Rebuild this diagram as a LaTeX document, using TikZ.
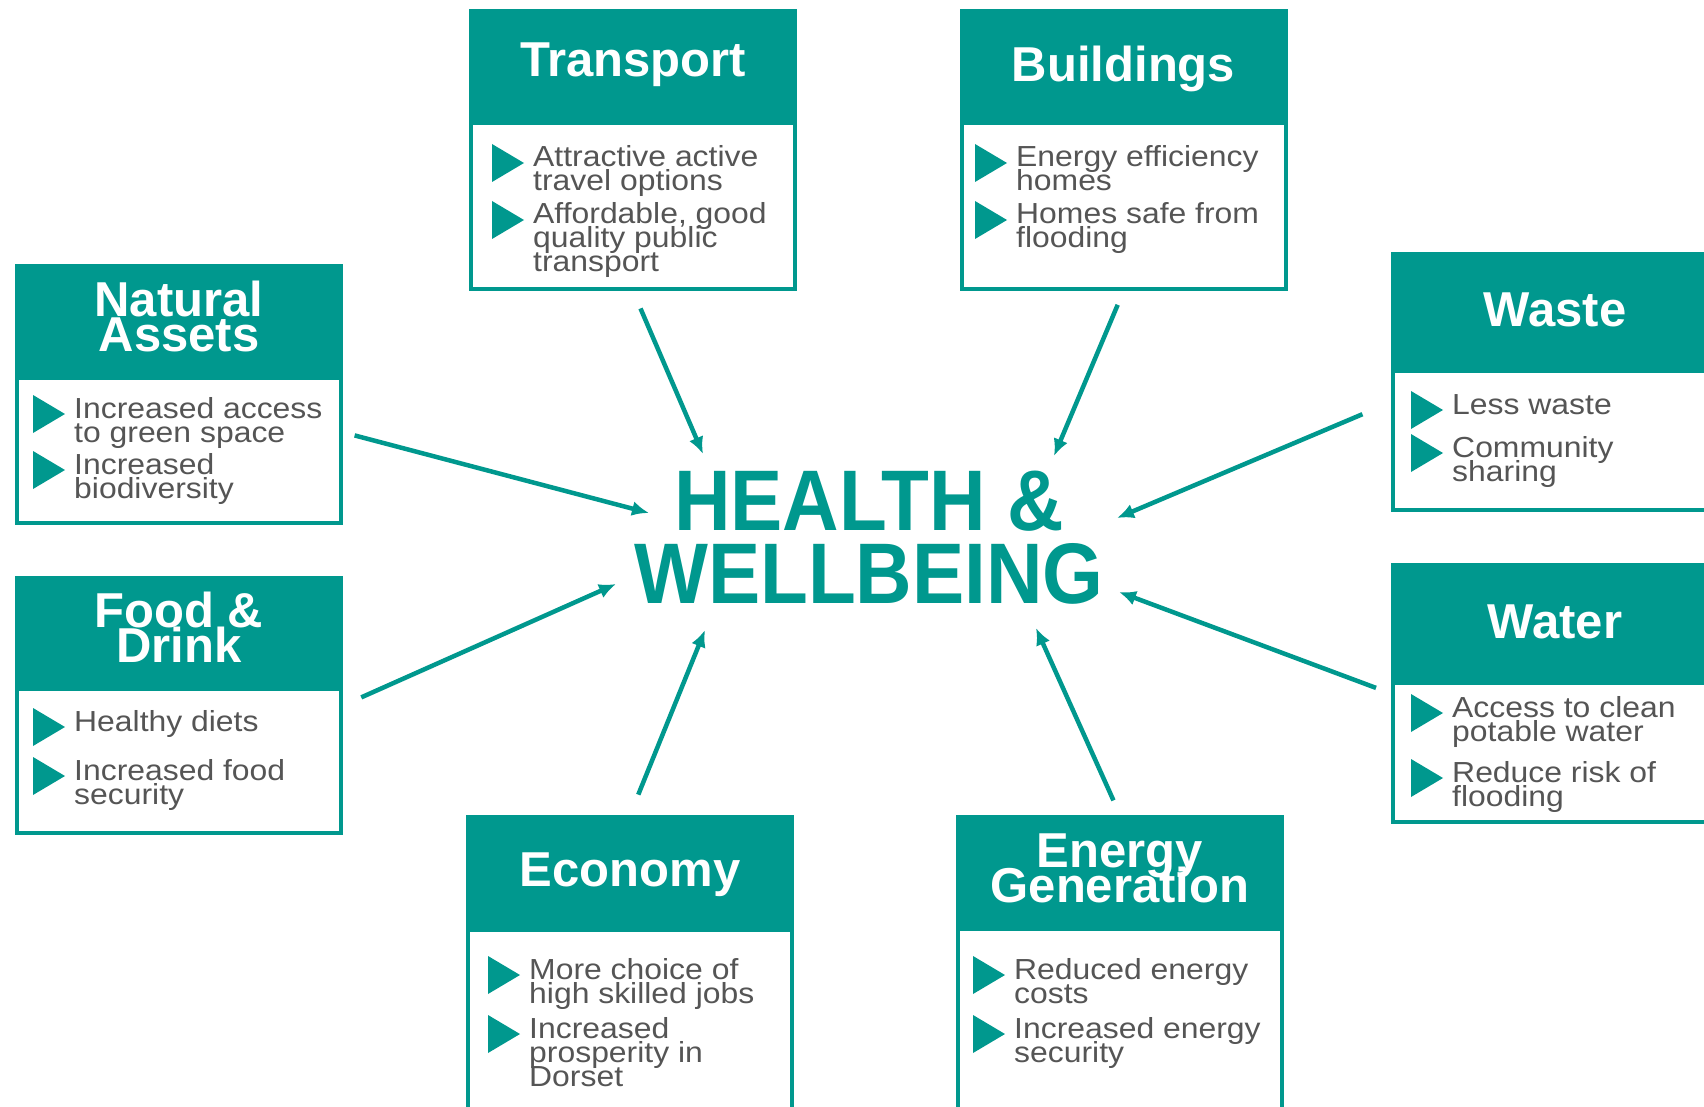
\documentclass[tikz,border=0pt]{standalone}
\usepackage{fontspec}
\setmainfont{Liberation Sans}
\newfontfamily\itemfont[FakeStretch=1.1]{Liberation Sans}
\newfontfamily\hwfont[FakeStretch=0.91]{Liberation Sans}
\usetikzlibrary{arrows.meta}
\begin{document}
\begin{tikzpicture}[x=1pt, y=-1pt,
    box/.style={draw=hwteal, line width=4pt, fill=white, minimum width=324pt, inner sep=0pt},
    head/.style={fill=hwteal, minimum width=328pt, inner sep=0pt, anchor=north},
    title/.style={text=white, font=\fontsize{49}{35}\selectfont\bfseries, inner sep=0pt, anchor=base},
    itm/.style={text=hwgray, font=\itemfont\fontsize{29}{24}\selectfont, inner sep=0pt, anchor=base west},
    arr/.style={draw=hwteal, line width=4.5pt, -{Latex[length=17pt,width=15pt]}}]
  \definecolor{hwteal}{RGB}{0,152,142}
  \definecolor{hwgray}{RGB}{85,85,85}
  \def\lnsc#1{\vtop{\lineskiplimit=-\maxdimen\lineskip=0pt\halign{\hfil##\hfil\cr#1\crcr}}}
  \def\lnsl#1{\vtop{\lineskiplimit=-\maxdimen\lineskip=0pt\halign{##\hfil\cr#1\crcr}}}
  \def\bitem#1#2#3#4{%
    \fill[hwteal] (#1,#2-23) -- (#1+32,#2-4) -- (#1,#2+15) -- cycle;
    \node[itm] (#3) at (#1+41,#2) {\lnsl{#4}};}
  \useasboundingbox[fill=white] (0,0) rectangle (1704,1107);

  \node[box, minimum height=278pt] (tr) at (633,150) {};
  \node[head, minimum height=116pt] (tr-h) at (tr.north) {};
  \node[title] (tr-t) at (633,77) {Transport};
  \bitem{492}{167}{tr-1}{Attractive active\cr travel options}
  \bitem{492}{224}{tr-2}{Affordable, good\cr quality public\cr transport}

  \node[box, minimum height=278pt] (bu) at (1123.5,150) {};
  \node[head, minimum height=116pt] (bu-h) at (bu.north) {};
  \node[title] (bu-t) at (1123.5,82) {Buildings};
  \bitem{975}{167}{bu-1}{Energy efficiency\cr homes}
  \bitem{975}{224}{bu-2}{Homes safe from\cr flooding}

  \node[box, minimum height=257pt] (na) at (179,394.5) {};
  \node[head, minimum height=116pt] (na-h) at (na.north) {};
  \node[title] (na-t) at (179,316) {\lnsc{Natural\cr Assets}};
  \bitem{33}{418}{na-1}{Increased access\cr to green space}
  \bitem{33}{474}{na-2}{Increased\cr biodiversity}

  \node[box, minimum height=255pt] (fd) at (179,705.5) {};
  \node[head, minimum height=115pt] (fd-h) at (fd.north) {};
  \node[title] (fd-t) at (179,627) {\lnsc{Food \&\cr Drink}};
  \bitem{33}{731}{fd-1}{Healthy diets}
  \bitem{33}{780}{fd-2}{Increased food\cr security}

  \node[box, minimum height=256pt] (ws) at (1555,382) {};
  \node[head, minimum height=121pt] (ws-h) at (ws.north) {};
  \node[title] (ws-t) at (1555,326) {Waste};
  \bitem{1411}{414}{ws-1}{Less waste}
  \bitem{1411}{457}{ws-2}{Community\cr sharing}

  \node[box, minimum height=257pt] (wt) at (1555,693.5) {};
  \node[head, minimum height=122pt] (wt-h) at (wt.north) {};
  \node[title] (wt-t) at (1555,638) {Water};
  \bitem{1411}{717}{wt-1}{Access to clean\cr potable water}
  \bitem{1411}{782}{wt-2}{Reduce risk of\cr flooding}

  \node[box, minimum height=306pt] (ec) at (630,970) {};
  \node[head, minimum height=117pt] (ec-h) at (ec.north) {};
  \node[title] (ec-t) at (630,886) {Economy};
  \bitem{488}{979}{ec-1}{More choice of\cr high skilled jobs}
  \bitem{488}{1038}{ec-2}{Increased\cr prosperity in\cr Dorset}

  \node[box, minimum height=306pt] (eg) at (1120,970) {};
  \node[head, minimum height=116pt] (eg-h) at (eg.north) {};
  \node[title] (eg-t) at (1120,867) {\lnsc{Energy\cr Generation}};
  \bitem{973}{979}{eg-1}{Reduced energy\cr costs}
  \bitem{973}{1038}{eg-2}{Increased energy\cr security}

  \node[text=hwteal, font=\hwfont\fontsize{86}{73}\selectfont\bfseries, inner sep=0pt, anchor=base] (hw) at (869,530) {\lnsc{HEALTH \&\cr WELLBEING}};

  \coordinate (hw-tr) at (703,454);
  \coordinate (hw-bu) at (1054,456);
  \coordinate (hw-na) at (649,513);
  \coordinate (hw-ws) at (1117,518);
  \coordinate (hw-fd) at (616,584);
  \coordinate (hw-wt) at (1119,592);
  \coordinate (hw-ec) at (705,630);
  \coordinate (hw-eg) at (1036,628);
  \draw[arr, shorten <=19pt] (tr.south) -- (hw-tr);
  \draw[arr, shorten <=15pt] (bu.south) -- (hw-bu);
  \draw[arr, shorten <=12pt] (na.-13) -- (hw-na);
  \draw[arr, shorten <=31pt] (ws.187) -- (hw-ws);
  \draw[arr, shorten <=20pt] (fd.east) -- (hw-fd);
  \draw[arr, shorten <=16pt] (wt.west) -- (hw-wt);
  \draw[arr, shorten <=22pt] (ec.north) -- (hw-ec);
  \draw[arr, shorten <=16pt] (eg.north) -- (hw-eg);
\end{tikzpicture}
\end{document}
